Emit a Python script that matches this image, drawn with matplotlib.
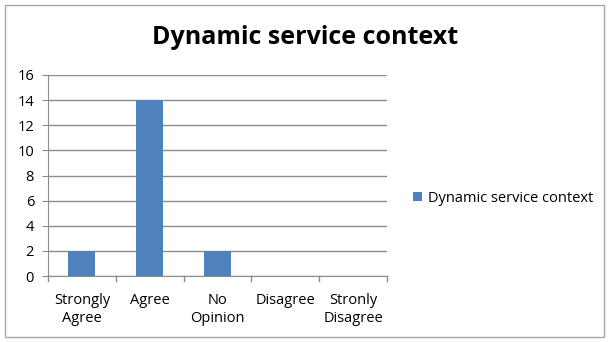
import matplotlib
matplotlib.use("Agg")
import matplotlib.pyplot as plt
from matplotlib.patches import Rectangle, Patch

categories = ["Strongly\nAgree", "Agree", "No\nOpinion", "Disagree", "Stronly\nDisagree"]
values = [2, 14, 2, 0, 0]
series_name = "Dynamic service context"
yticks = [0, 2, 4, 6, 8, 10, 12, 14, 16]

plt.rcParams['font.family'] = ['Open Sans', 'DejaVu Sans']
W, H = 609, 342
fig = plt.figure(figsize=(W/100, H/100), dpi=100)
fig.patch.set_facecolor('white')

# outer border
fig.add_artist(Rectangle((5/W, 5/H), 599/W, 332/H, transform=fig.transFigure,
                         fill=False, edgecolor='#a6a6a6', linewidth=1.0))

ax = fig.add_axes([48/W, (H-276)/H, (387-48)/W, (276-75)/H])
x = list(range(len(categories)))
ax.bar(x, values, width=0.4, color='#4f81bd', zorder=3)
ax.set_xlim(-0.5, len(categories)-0.5)
ax.set_ylim(0, 16)
ax.set_yticks(yticks)
ax.set_yticklabels([str(v) for v in yticks], fontsize=10.5)
ax.grid(axis='y', color='#8c8c8c', linewidth=1.0, zorder=0)
ax.set_xticks(x)
ax.set_xticklabels(categories, fontsize=10.5, linespacing=1.3)
ax.tick_params(axis='x', length=0, pad=12)
# boundary ticks on x axis
for b in [i - 0.5 for i in range(len(categories)+1)]:
    ax.plot([b, b], [0, -0.4], color='#8c8c8c', lw=1.0, clip_on=False, zorder=4)
ax.tick_params(axis='y', length=4, color='#8c8c8c', pad=6)
for s in ['top', 'right']:
    ax.spines[s].set_visible(False)
ax.spines['left'].set_color('#8c8c8c')
ax.spines['bottom'].set_color('#8c8c8c')
ax.set_axisbelow(True)

fig.text(305/W, (H-38)/H, "Dynamic service context", ha='center', va='center',
         fontsize=18, fontweight='bold')

leg = fig.legend(handles=[Patch(facecolor='#4f81bd', label=series_name)],
                 loc='center left', bbox_to_anchor=(400/W, (H-198)/H),
                 frameon=False, fontsize=10.5, handlelength=0.6, handleheight=0.6,
                 handletextpad=0.4)

fig.savefig("out.png", dpi=100, facecolor='white')
